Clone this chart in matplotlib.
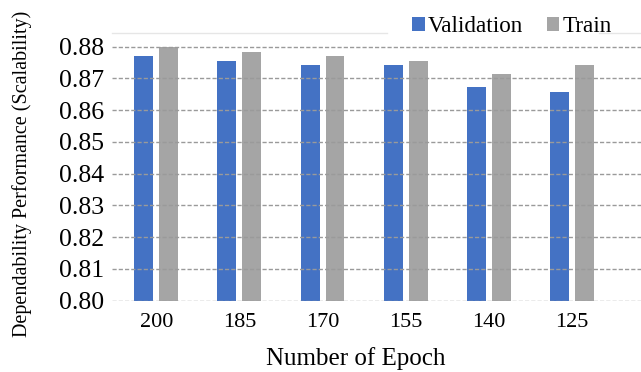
import numpy as np
import matplotlib
matplotlib.use("Agg")
import matplotlib.pyplot as plt

epochs = ["200", "185", "170", "155", "140", "125"]
validation = [0.8769, 0.8755, 0.8741, 0.8741, 0.8672, 0.8657]
train = [0.8798, 0.8783, 0.8769, 0.8755, 0.8714, 0.8741]
yticks = [0.80, 0.81, 0.82, 0.83, 0.84, 0.85, 0.86, 0.87, 0.88]

plt.rcParams['font.family'] = 'serif'
plt.rcParams['font.serif'] = ['Liberation Serif', 'DejaVu Serif']

fig = plt.figure(figsize=(6.41, 3.72), dpi=100)
ax = fig.add_axes([0.175, 0.192, 0.825, 0.718])

x = np.arange(len(epochs))
w = 0.228
ax.bar(x - 0.15, validation, w, color="#4472C4", label="Validation", zorder=3)
ax.bar(x + 0.15, train, w, color="#A5A5A5", label="Train", zorder=3)

ax.set_ylim(0.80, 0.8841)
ax.set_xlim(-0.53, 5.83)
ax.set_yticks(yticks)
ax.set_yticklabels([f"{v:.2f}" for v in yticks], fontsize=18.5)
ax.set_xticks(x)
ax.set_xticklabels(epochs, fontsize=16)
ax.tick_params(axis='y', length=0, pad=6)
ax.tick_params(axis='x', length=0, pad=9)

for v in yticks:
    ax.axhline(v, color="#9a9a9a", linestyle=(0, (3, 1.5)), linewidth=1.0, zorder=4)
# faint top border line, broken by the legend
ax.axhline(0.8841, xmax=0.52, color="#e6e6e6", linewidth=1.0, zorder=2, clip_on=False)
ax.axhline(0.8841, xmin=0.92, color="#e6e6e6", linewidth=1.0, zorder=2, clip_on=False)

for s in ax.spines.values():
    s.set_visible(False)

ax.set_xlabel("Number of Epoch", fontsize=18)
ax.xaxis.set_label_coords(0.46, -0.172)
ax.set_ylabel("Dependability Performance (Scalability)", fontsize=14.5)
ax.yaxis.set_label_coords(-0.151, 0.475)

ax.legend(loc="upper right", bbox_to_anchor=(0.963, 1.10), ncol=2, frameon=False,
          fontsize=16.7, handlelength=0.55, handleheight=0.55, handletextpad=0.15,
          columnspacing=1.0, borderaxespad=0)

fig.savefig("out.png", dpi=100)
